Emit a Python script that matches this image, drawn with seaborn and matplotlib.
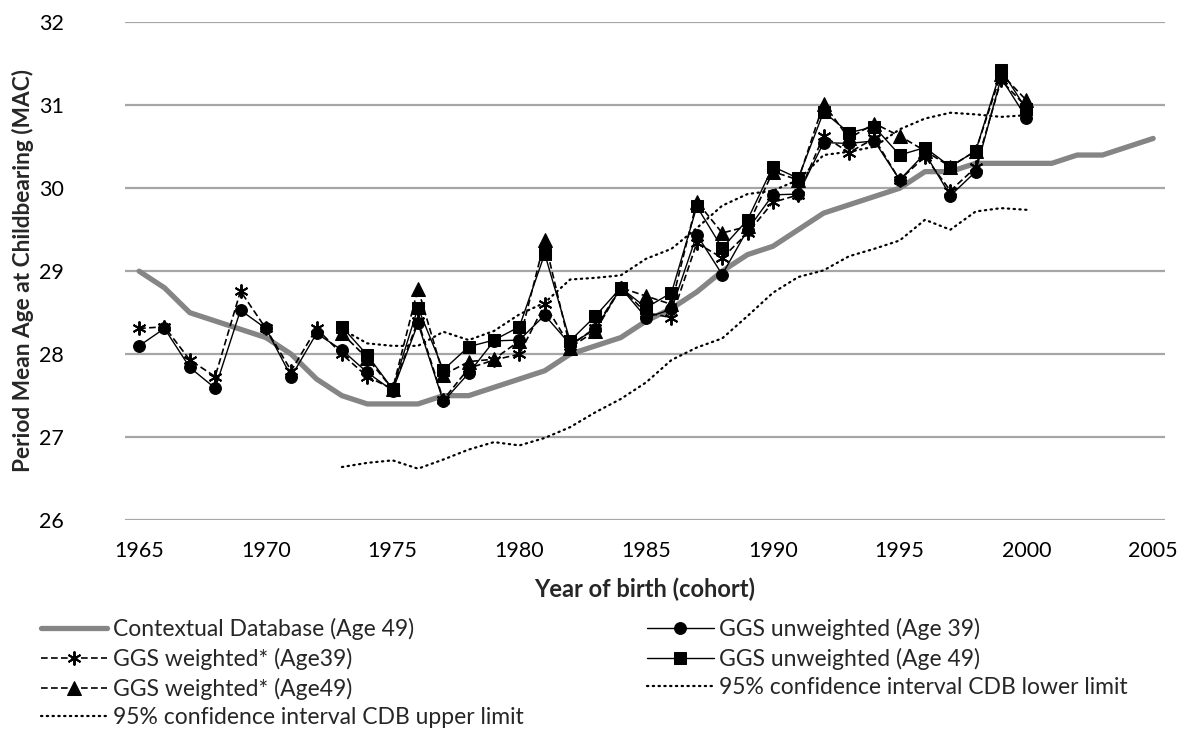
import numpy as np
import pandas as pd
import matplotlib
matplotlib.use("Agg")
import matplotlib.pyplot as plt
import seaborn as sns

# ---- data -------------------------------------------------------------
years_cdb = list(range(1965, 2006))
cdb_age49 = [29.0, 28.8, 28.5, 28.4, 28.3, 28.2, 28.0, 27.7, 27.5, 27.4,
             27.4, 27.4, 27.5, 27.5, 27.6, 27.7, 27.8, 28.0, 28.1, 28.2,
             28.4, 28.55, 28.75, 29.0, 29.2, 29.3, 29.5, 29.7, 29.8, 29.9,
             30.0, 30.2, 30.2, 30.3, 30.3, 30.3, 30.3, 30.4, 30.4, 30.5, 30.6]

years_39 = list(range(1965, 2001))
ggs_unw_39 = [28.10, 28.31, 27.84, 27.59, 28.53, 28.31, 27.73, 28.25, 28.05, 27.78,
              27.56, 28.37, 27.43, 27.77, 28.16, 28.17, 28.47, 28.12, 28.30, 28.80,
              28.44, 28.54, 29.44, 28.96, 29.50, 29.92, 29.93, 30.55, 30.54, 30.57,
              30.10, 30.42, 29.91, 30.20, 31.33, 30.85]
ggs_w_39 = [28.31, 28.33, 27.93, 27.73, 28.76, 28.31, 27.80, 28.31, 28.00, 27.73,
            27.58, 28.40, 27.45, 27.83, 27.93, 28.00, 28.60, 28.10, 28.32, 28.80,
            28.50, 28.44, 29.34, 29.16, 29.46, 29.83, 29.92, 30.63, 30.43, 30.60,
            30.10, 30.38, 29.97, 30.25, 31.30, 30.98]

years_49 = list(range(1973, 2001))
ggs_unw_49 = [28.33, 27.99, 27.58, 28.56, 27.81, 28.09, 28.17, 28.33, 29.21, 28.16,
              28.46, 28.80, 28.56, 28.74, 29.78, 29.28, 29.62, 30.26, 30.12, 30.92,
              30.67, 30.74, 30.40, 30.49, 30.26, 30.45, 31.43, 30.95]
ggs_w_49 = [28.25, 27.95, 27.58, 28.79, 27.75, 27.91, 27.94, 28.16, 29.37, 28.08,
            28.28, 28.80, 28.70, 28.60, 29.84, 29.46, 29.54, 30.20, 30.10, 31.02,
            30.60, 30.78, 30.63, 30.45, 30.26, 30.45, 31.38, 31.06]

years_ci = list(range(1973, 2001))
ci_lower = [26.64, 26.69, 26.72, 26.62, 26.73, 26.85, 26.94, 26.90, 26.99, 27.12,
            27.30, 27.46, 27.66, 27.93, 28.08, 28.19, 28.46, 28.74, 28.93, 29.01,
            29.18, 29.27, 29.37, 29.62, 29.50, 29.72, 29.76, 29.74]
ci_upper = [28.30, 28.13, 28.10, 28.10, 28.27, 28.17, 28.28, 28.48, 28.62, 28.90,
            28.92, 28.95, 29.15, 29.27, 29.52, 29.79, 29.93, 29.97, 30.10, 30.40,
            30.44, 30.50, 30.71, 30.84, 30.91, 30.89, 30.86, 30.88]

x_ticks = [1965, 1970, 1975, 1980, 1985, 1990, 1995, 2000, 2005]
y_ticks = [26, 27, 28, 29, 30, 31, 32]

labels = {
    "cdb": "Contextual Database (Age 49)",
    "unw39": "GGS unweighted (Age 39)",
    "w39": "GGS weighted* (Age39)",
    "unw49": "GGS unweighted (Age 49)",
    "w49": "GGS weighted* (Age49)",
    "lo": "95% confidence interval CDB lower limit",
    "hi": "95% confidence interval CDB upper limit",
}

# ---- style ------------------------------------------------------------
sns.set_theme(style="white")
plt.rcParams["font.family"] = ["Lato", "DejaVu Sans"]

fig = plt.figure(figsize=(11.92, 7.43), dpi=100)
ax = fig.add_axes([0.105, 0.300, 0.872, 0.670])

star = (6, 2, 0)
dots = (0, (0.6, 2.0))
dashes = (0, (4, 2))

sns.lineplot(x=years_cdb, y=cdb_age49, ax=ax, color="#858585", lw=3.8,
             solid_capstyle="round", label=labels["cdb"], zorder=2)
sns.lineplot(x=years_ci, y=ci_lower, ax=ax, color="black", lw=1.6,
             linestyle=dots, dash_capstyle="round", label=labels["lo"], zorder=3)
sns.lineplot(x=years_ci, y=ci_upper, ax=ax, color="black", lw=1.6,
             linestyle=dots, dash_capstyle="round", label=labels["hi"], zorder=3)
sns.lineplot(x=years_39, y=ggs_w_39, ax=ax, color="black", lw=1.2,
             linestyle=dashes, marker=star, markersize=10,
             markeredgewidth=1.4, markeredgecolor="black",
             label=labels["w39"], zorder=4)
sns.lineplot(x=years_49, y=ggs_w_49, ax=ax, color="black", lw=1.2,
             linestyle=dashes, marker="^", markersize=9.5,
             markeredgecolor="black", label=labels["w49"], zorder=4)
sns.lineplot(x=years_39, y=ggs_unw_39, ax=ax, color="black", lw=1.0,
             marker="o", markersize=8.5, markeredgecolor="black",
             label=labels["unw39"], zorder=5)
sns.lineplot(x=years_49, y=ggs_unw_49, ax=ax, color="black", lw=1.0,
             marker="s", markersize=8.5, markeredgecolor="black",
             label=labels["unw49"], zorder=5)

ax.set_xlim(1964.45, 2005.45)
ax.set_ylim(26, 32)
ax.set_xticks(x_ticks)
ax.set_yticks(y_ticks)
ax.tick_params(axis="both", length=0, labelsize=15.5, colors="black")
ax.tick_params(axis="y", pad=44)
ax.tick_params(axis="x", pad=15)
ax.grid(axis="y", color="#a6a6a6", lw=1.6)
ax.grid(axis="x", visible=False)
for s in ax.spines.values():
    s.set_visible(False)

ax.set_xlabel("Year of birth (cohort)", fontsize=17, fontweight="bold")
ax.set_ylabel("Period Mean Age at Childbearing (MAC)", fontsize=16.3,
              fontweight="bold")
ax.xaxis.set_label_coords(0.5, -0.115)
ax.yaxis.set_label_coords(-0.0875, 0.502)

# legend below the axes: two columns, filled column by column
handles, labs = ax.get_legend_handles_labels()
ax.get_legend().remove()
lookup = dict(zip(labs, handles))
order = [labels[k] for k in ["cdb", "w39", "w49", "hi", "unw39", "unw49", "lo"]]
fig.legend([lookup[l] for l in order], order, ncol=2, frameon=False,
           loc="upper left", bbox_to_anchor=(0.034, 0.168),
           fontsize=16.5, handlelength=2.9, handletextpad=0.25,
           columnspacing=5.4, labelspacing=0.33, borderpad=0,
           borderaxespad=0)

fig.savefig("out.png", dpi=100)
